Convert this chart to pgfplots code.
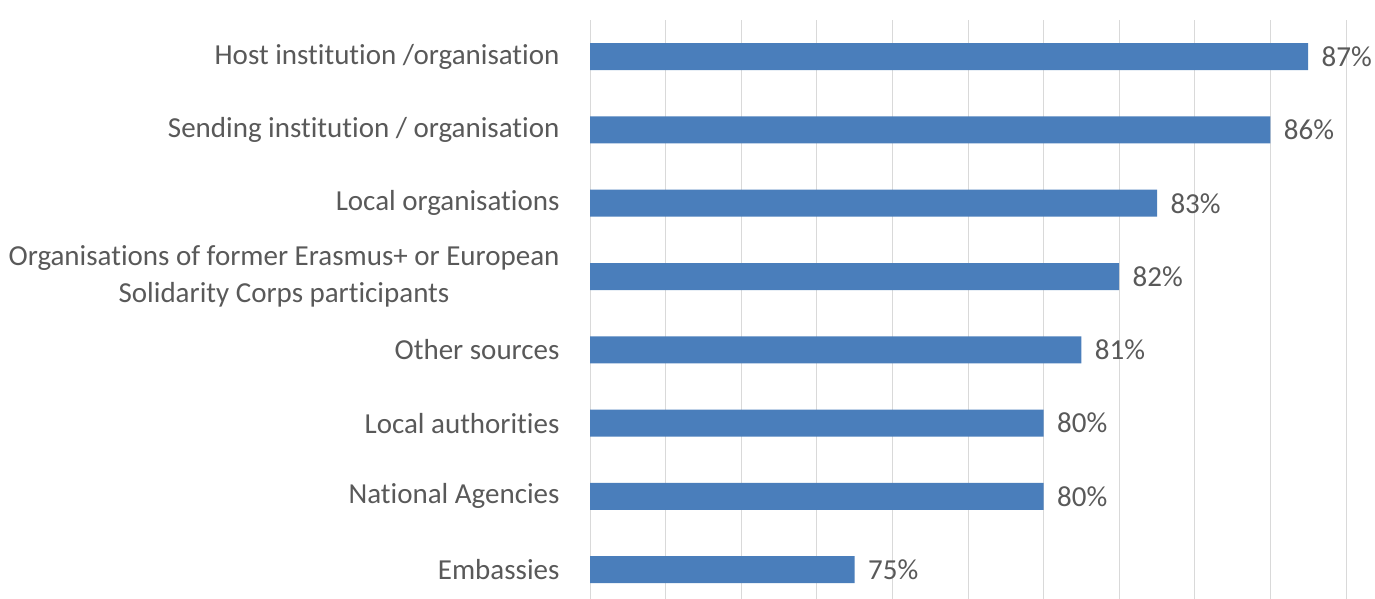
\documentclass[border=0pt]{standalone}
\usepackage{pgfplots}
\pgfplotsset{compat=1.18}
\usepackage{fontspec}
\setmainfont{Carlito}[Ligatures=NoCommon]
\definecolor{barblue}{HTML}{4A7EBB}
\definecolor{labgray}{HTML}{595959}
\definecolor{gridgray}{HTML}{D9D9D9}
\begin{document}
\begin{tikzpicture}
\path[use as bounding box] (0,0) rectangle (1375bp,599bp);
\begin{axis}[
    at={(590bp,0bp)}, anchor=south west,
    scale only axis,
    width=756bp, height=579bp,
    xbar, bar width=27bp, bar shift=0pt,
    xmin=68, xmax=88,
    xtick={68,70,...,88}, xticklabels={},
    xmajorgrids, major grid style={gridgray, line width=1bp},
    ymin=-0.5, ymax=7.4, y dir=reverse,
    ytick={0,...,7},
    yticklabels={Host institution /organisation,
                 Sending institution / organisation,
                 Local organisations,
                 {Organisations of former Erasmus+ or European\\Solidarity Corps participants},
                 Other sources,
                 Local authorities,
                 National Agencies,
                 Embassies},
    yticklabel style={align=center, font=\fontsize{29bp}{37bp}\selectfont, text=labgray, xshift=-27bp},
    axis line style={draw=none},
    tick style={draw=none},
    major tick length=0pt,
    /pgf/number format/assume math mode=true,
    nodes near coords={\pgfmathprintnumber{\pgfplotspointmeta}\%},
    every node near coord/.append style={font=\fontsize{29bp}{34bp}\selectfont, text=labgray, anchor=west, xshift=10bp},
    point meta=x,
  ]
  \addplot[fill=barblue, draw=none] coordinates {
    (87,0) (86,1) (83,2) (82,3) (81,4) (80,5) (80,6) (75,7)
  };
\end{axis}
\end{tikzpicture}
\end{document}
